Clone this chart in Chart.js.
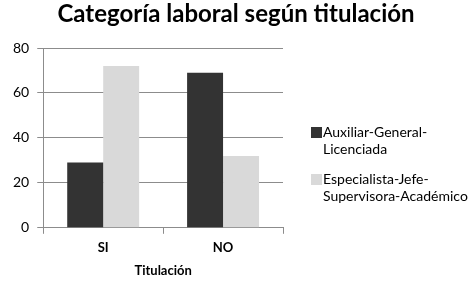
<!DOCTYPE html>
<html>
<head>
<meta charset="utf-8">
<script src="https://cdn.jsdelivr.net/npm/chart.js@4/dist/chart.umd.min.js"></script>
<style>
  html, body { margin: 0; padding: 0; background: #fff; }
  #wrap { width: 472px; height: 283px; }
</style>
</head>
<body>
<div id="wrap"><canvas id="myChart" width="472" height="283"></canvas></div>
<script>
// data
var chartTitle = 'Categoría laboral según titulación';
var categories = ['SI', 'NO'];
var seriesNames = [['Auxiliar-General-', 'Licenciada'], ['Especialista-Jefe-', 'Supervisora-Académico']];
var auxiliarVals = [29, 69];
var especialistaVals = [72, 32];
var yTicks = [0, 20, 40, 60, 80];

var darkCol = '#333333';
var lightCol = '#d9d9d9';
var gridCol = '#8c8c8c';
var fontFam = 'Lato, "Open Sans", sans-serif';

// title centred on the whole canvas + legend with wrapped labels at the right
var sideLegend = {
	id: 'sideLegend',
	afterDraw: function(chart) {
		var ctx = chart.ctx;
		ctx.save();
		ctx.fillStyle = '#000';
		ctx.textAlign = 'center';
		ctx.textBaseline = 'middle';
		ctx.font = 'bold 24px ' + fontFam;
		ctx.fillText(chartTitle, chart.width / 2, 14);

		var x = 311, y = 132;
		ctx.textAlign = 'left';
		ctx.font = '14px ' + fontFam;
		chart.data.datasets.forEach(function(ds, i) {
			ctx.fillStyle = ds.backgroundColor;
			ctx.fillRect(x, y - 5, 11, 11);
			ctx.fillStyle = '#000';
			ds.labelLines.forEach(function(line, j) {
				ctx.fillText(line, x + 12, y + j * 17);
			});
			y += 47;
		});
		ctx.restore();
	}
};

var ctx = document.getElementById('myChart').getContext('2d');
var myChart = new Chart(ctx, {
	type: 'bar',
	data: {
		labels: categories,
		datasets: [{
			label: seriesNames[0].join(''),
			labelLines: seriesNames[0],
			data: auxiliarVals,
			backgroundColor: darkCol,
			categoryPercentage: 0.6,
			barPercentage: 1.0
		}, {
			label: seriesNames[1].join(''),
			labelLines: seriesNames[1],
			data: especialistaVals,
			backgroundColor: lightCol,
			categoryPercentage: 0.6,
			barPercentage: 1.0
		}]
	},
	options: {
		responsive: false,
		animation: false,
		layout: { padding: { left: 5, right: 189, top: 48, bottom: 4 } },
		plugins: {
			legend: { display: false },
			tooltip: { enabled: false },
			title: { display: false }
		},
		scales: {
			x: {
				grid: { drawOnChartArea: false, color: gridCol, tickLength: 6 },
				border: { color: gridCol },
				ticks: { color: '#000', font: { family: fontFam, size: 13, weight: 'bold' }, padding: 6 },
				title: {
					display: true,
					text: 'Titulación',
					color: '#000',
					font: { family: fontFam, size: 13, weight: 'bold' },
					padding: { top: 2, bottom: 0 }
				}
			},
			y: {
				min: 0,
				max: 80,
				afterBuildTicks: function(axis) {
					axis.ticks = yTicks.map(function(v) { return { value: v }; });
				},
				grid: { color: gridCol, tickLength: 6 },
				border: { color: gridCol },
				ticks: { color: '#000', font: { family: fontFam, size: 14 }, padding: 8 }
			}
		}
	},
	plugins: [sideLegend]
});
</script>
</body>
</html>
